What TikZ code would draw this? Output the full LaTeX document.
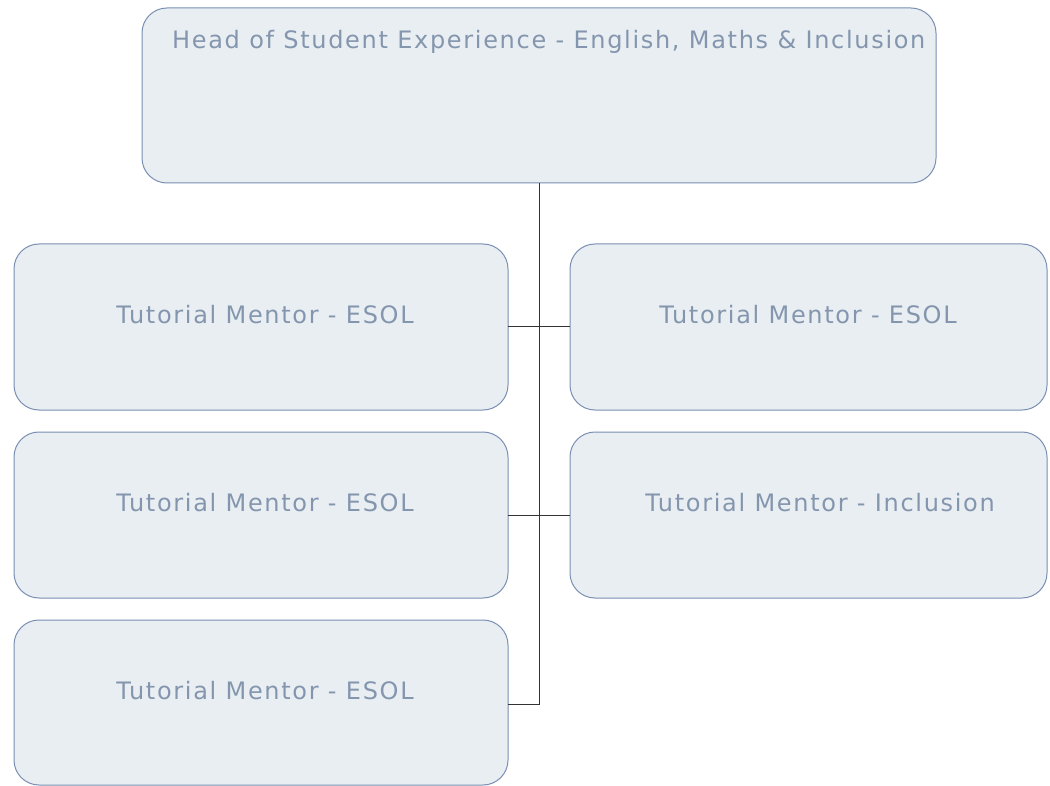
\documentclass[tikz,border=0pt]{standalone}
\usepackage{fontspec}
\setmainfont{DejaVu Sans}[LetterSpace=7]
\definecolor{boxfill}{HTML}{E9EEF2}
\definecolor{boxdraw}{HTML}{7A8FB3}
\definecolor{boxtext}{HTML}{8496AE}
\begin{document}
\begin{tikzpicture}[x=1pt,y=-1pt,
  orgbox/.style={draw=boxdraw,fill=boxfill,line width=1pt,rounded corners=25pt},
  lbl/.style={text=boxtext,font=\fontsize{24}{28}\selectfont,inner sep=0pt},
  conn/.style={draw=black!80,line width=1pt}]
\useasboundingbox (0,0) rectangle (1050,786);
\draw[orgbox] (142,8) rectangle (936,183);
\coordinate (topb) at (539,183);
\node[lbl,anchor=base west] (head) at (172,49) {Head of Student Experience - English, Maths \& Inclusion};
% left boxes
\draw[orgbox] (14,244) rectangle (508,410);
\draw[orgbox] (14,432) rectangle (508,598);
\draw[orgbox] (14,620) rectangle (508,785);
% right boxes
\draw[orgbox] (570,244) rectangle (1047,410);
\draw[orgbox] (570,432) rectangle (1047,598);
\node[lbl] (l1) at (265,315) {Tutorial Mentor - ESOL};
\node[lbl] (l2) at (265,503) {Tutorial Mentor - ESOL};
\node[lbl] (l3) at (265,691) {Tutorial Mentor - ESOL};
\node[lbl] (r1) at (808,315) {Tutorial Mentor - ESOL};
\node[lbl] (r2) at (820,503) {Tutorial Mentor - Inclusion};
\coordinate (l1e) at (508,327);
\coordinate (l2e) at (508,515);
\coordinate (l3e) at (508,704);
\coordinate (r1e) at (570,327);
\coordinate (r2e) at (570,515);
\coordinate (j1) at (539,327);
\coordinate (j2) at (539,515);
\coordinate (j3) at (539,704);
\draw[conn] (topb) -- (j3) -- (l3e);
\draw[conn] (l1e) -- (r1e);
\draw[conn] (l2e) -- (r2e);
\end{tikzpicture}
\end{document}
